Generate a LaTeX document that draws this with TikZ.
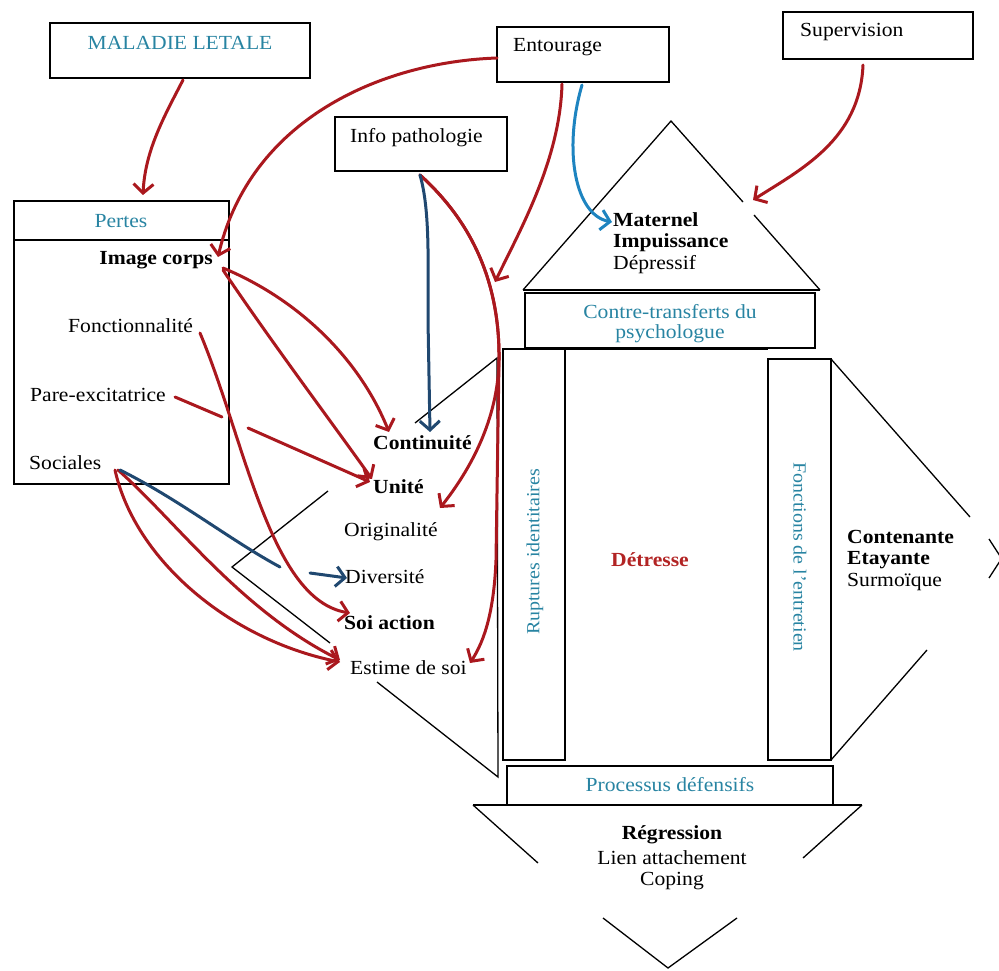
\documentclass[tikz,border=0pt]{standalone}
\usepackage{fontspec}
\setmainfont{Liberation Serif}[FakeStretch=1.08]
\usetikzlibrary{arrows.meta}
\definecolor{dred}{RGB}{170,24,30}
\definecolor{navy}{RGB}{32,72,112}
\definecolor{lblue}{RGB}{30,132,192}
\definecolor{teal2}{RGB}{40,132,162}
\definecolor{dtr}{RGB}{178,36,36}
\tikzset{
  box/.style={draw=black, line width=1.6pt, inner sep=0pt},
  ln/.style={draw=black, line width=1.3pt},
  txt/.style={inner sep=0pt, font=\fontsize{20}{23}\selectfont},
  btxt/.style={txt, font=\fontsize{20}{23}\selectfont\bfseries},
  ttxt/.style={txt, text=teal2},
  vtxt/.style={inner sep=0pt, text=teal2, font=\fontsize{18.5}{22}\selectfont},
  tip/.style={-{Straight Barb[length=9pt,width=20pt,line width=3pt]}},
  rarr/.style={draw=dred, line width=3pt, line cap=round, tip},
  narr/.style={draw=navy, line width=3pt, line cap=round, tip},
  barr/.style={draw=lblue, line width=3pt, line cap=round, tip}
}
\begin{document}
\begin{tikzpicture}[x=1pt,y=-1pt]
\useasboundingbox (0,0) rectangle (999,971);
% boxes
\draw[box] (50,23) rectangle (310,78);
\draw[box] (497,27) rectangle (669,82);
\draw[box] (783,12) rectangle (973,59);
\draw[box] (335,117) rectangle (507,171);
\draw[box] (14,201) rectangle (229,484);
\draw[box] (14,240) -- (229,240);
\draw[box] (525,293) rectangle (815,348);
\draw[box] (503,349) rectangle (565,760);
\draw[box] (768,359) rectangle (831,760);
\draw[box] (565,349) -- (768,349);
\draw[box] (507,766) rectangle (833,805);
% roof
\draw[ln] (523,290) -- (671,121) -- (743,202);
\draw[ln] (754,215) -- (820,290);
\draw[box] (523,290) -- (820,290);
% bottom
\draw[ln] (473,805) -- (862,805);
\draw[ln] (473,805) -- (538,863);
\draw[ln] (862,805) -- (803,858);
\draw[ln] (603,918) -- (668,968) -- (737,918);
% right chevron
\draw[ln] (831,359) -- (970,517);
\draw[ln] (927,650) -- (831,760);
\draw[ln] (989,539) -- (1000,556);
\draw[ln] (1000,561) -- (989,578);
% left chevron
\draw[ln] (415,423) -- (497,358) -- (498,777) -- (377,682);
\draw[ln] (328,491) -- (232,567) -- (330,643);
% texts
\node[ttxt] (mal) at (180,43) {MALADIE LETALE};
\node[txt, anchor=west] (ent) at (513,47) {Entourage};
\node[txt, anchor=west] (sup) at (800,32) {Supervision};
\node[txt, anchor=west] (info) at (350,138) {Info pathologie};
\node[ttxt] (pertes) at (121,221) {Pertes};
\node[btxt, anchor=east] (img) at (213,260) {Image corps};
\node[txt, anchor=west] (fonc) at (68,326) {Fonctionnalité};
\node[txt, anchor=west] (pare) at (30,395) {Pare-excitatrice};
\node[txt, anchor=west] (soc) at (29,463) {Sociales};
\node[btxt, anchor=west] (cont) at (373,443) {Continuité};
\node[btxt, anchor=west] (unite) at (373,487) {Unité};
\node[txt, anchor=west] (orig) at (344,532) {Originalité};
\node[txt, anchor=west] (div) at (345,577) {Diversité};
\node[btxt, anchor=west] (soi) at (344,623) {Soi action};
\node[txt, anchor=west] (est) at (350,668) {Estime de soi};
\node[btxt, anchor=west] (mat) at (613,220) {Maternel};
\node[btxt, anchor=west] (imp) at (613,243) {Impuissance};
\node[txt, anchor=west] (dep) at (613,265) {Dépressif};
\node[ttxt] (ct1) at (670,312) {Contre-transferts du};
\node[ttxt] (ct2) at (670,334) {psychologue};
\node[vtxt, rotate=90] (rup) at (535,552) {Ruptures identitaires};
\node[btxt, text=dtr] (det) at (650,560) {Détresse};
\node[vtxt, rotate=-90] (fct) at (800,557) {Fonctions de l'entretien};
\node[btxt, anchor=west] (cten) at (847,537) {Contenante};
\node[btxt, anchor=west] (eta) at (847,560) {Etayante};
\node[txt, anchor=west] (sur) at (847,582) {Surmoïque};
\node[ttxt] (proc) at (670,785) {Processus défensifs};
\node[btxt] (reg) at (672,835) {Régression};
\node[txt] (lien) at (672,858) {Lien attachement};
\node[txt] (cop) at (672,881) {Coping};
% arrows
\draw[rarr] (183,80) .. controls (165,115) and (145,150) .. (143,195);
\draw[rarr] (497,58) .. controls (380,62) and (250,120) .. (218,257);
\draw[rarr] (562,84) .. controls (560,160) and (520,230) .. (495,282);
\draw[rarr] (420,175) .. controls (470,220) and (500,280) .. (499,360) .. controls (498,420) and (470,470) .. (440,508);
\draw[rarr] (420,175) .. controls (470,220) and (500,280) .. (499,360) -- (496,560) .. controls (494,610) and (485,640) .. (470,663);
\draw[rarr] (863,65) .. controls (860,140) and (800,170) .. (753,200);
\draw[rarr] (223,268) .. controls (300,300) and (360,360) .. (389,432);
\draw[rarr] (223,270) .. controls (270,340) and (330,420) .. (372,479);
\draw[rarr] (175,397) -- (222,417) (248,428) -- (370,482);
\draw[rarr] (200,333) .. controls (245,440) and (270,600) .. (350,613);
\draw[rarr] (118,470) .. controls (175,520) and (240,610) .. (340,660);
\draw[rarr] (115,470) .. controls (135,560) and (230,640) .. (340,662);
\draw[narr] (120,470) .. controls (180,500) and (230,540) .. (280,567) (310,573) -- (347,578);
\draw[narr] (420,175) .. controls (430,210) and (428,260) .. (428,320) -- (430,432);
\draw[barr] (582,85) .. controls (563,150) and (575,215) .. (612,222);
\end{tikzpicture}
\end{document}
